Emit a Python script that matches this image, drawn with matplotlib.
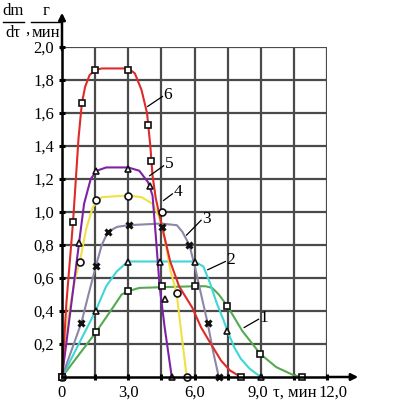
import numpy as np
import matplotlib
matplotlib.use("Agg")
import matplotlib.pyplot as plt
from matplotlib.lines import Line2D
from matplotlib.transforms import ScaledTranslation

plt.rcParams['font.family'] = ['Liberation Serif', 'DejaVu Serif']

# ---- curve lines ----
line6_x = [0, 0.2, 0.5, 0.75, 0.9, 1.05, 1.25, 1.5, 1.8, 3.0, 3.3, 3.6, 3.85, 4.0, 4.1, 4.25, 4.55, 4.9, 5.3, 5.9, 6.3, 6.7, 7.2, 7.6, 8.1]
line6_y = [0, 0.45, 0.94, 1.45, 1.66, 1.76, 1.83, 1.86, 1.87, 1.87, 1.84, 1.74, 1.6, 1.4, 1.22, 1.08, 0.9, 0.7, 0.55, 0.42, 0.3, 0.21, 0.1, 0.04, 0.0]
line5_x = [0, 0.4, 0.77, 1.0, 1.3, 1.57, 2.0, 3.0, 3.5, 3.9, 4.1, 4.25, 4.42, 4.65, 4.97]
line5_y = [0, 0.42, 0.81, 1.05, 1.2, 1.25, 1.27, 1.27, 1.25, 1.18, 1.1, 0.85, 0.55, 0.3, 0.0]
line4_x = [0, 0.3, 0.6, 0.81, 1.1, 1.4, 1.8, 3.0, 3.6, 4.1, 4.4, 4.65, 4.9, 5.19, 5.4, 5.65]
line4_y = [0, 0.38, 0.6, 0.7, 0.9, 1.03, 1.09, 1.1, 1.09, 1.05, 0.97, 0.84, 0.65, 0.51, 0.27, 0.0]
line3_x = [0, 0.88, 1.2, 1.53, 1.8, 2.08, 2.5, 3.0, 4.5, 5.2, 5.45, 5.77, 6.05, 6.3, 6.59, 6.85, 7.1]
line3_y = [0, 0.33, 0.5, 0.67, 0.8, 0.88, 0.91, 0.92, 0.93, 0.92, 0.88, 0.8, 0.65, 0.5, 0.33, 0.15, 0.0]
line2_x = [0, 1.52, 2.0, 2.48, 2.9, 3.0, 6.0, 6.4, 6.7, 7.0, 7.3, 7.49, 7.8, 8.1, 8.5, 9.0]
line2_y = [0, 0.4, 0.55, 0.64, 0.69, 0.7, 0.7, 0.67, 0.57, 0.45, 0.35, 0.28, 0.18, 0.11, 0.05, 0.0]
line1_x = [0, 1.53, 2.3, 2.7, 3.0, 3.5, 6.0, 6.5, 6.8, 7.1, 7.49, 8.16, 8.98, 9.7, 10.5, 10.87]
line1_y = [0, 0.27, 0.42, 0.5, 0.52, 0.54, 0.55, 0.55, 0.54, 0.5, 0.43, 0.28, 0.14, 0.06, 0.01, 0.0]

# ---- measured points (markers) ----
pts6_x = [0, 0.5, 0.9, 1.5, 3.0, 3.9, 4.05, 8.1]
pts6_y = [0, 0.94, 1.66, 1.86, 1.86, 1.53, 1.31, 0.0]
pts5_x = [0, 0.77, 1.55, 3.0, 3.97, 4.65, 4.97]
pts5_y = [0, 0.81, 1.25, 1.26, 1.16, 0.47, 0.0]
pts4_x = [0, 0.81, 1.52, 3.0, 4.55, 5.19, 5.68]
pts4_y = [0, 0.70, 1.07, 1.10, 1.0, 0.51, 0.0]
pts3_x = [0, 0.88, 1.53, 2.08, 3.02, 4.55, 5.77, 6.59, 7.1]
pts3_y = [0, 0.33, 0.67, 0.88, 0.92, 0.91, 0.80, 0.33, 0.0]
pts2_x = [0, 1.52, 3.0, 4.45, 6.0, 7.49, 9.0]
pts2_y = [0, 0.40, 0.70, 0.70, 0.70, 0.28, 0.0]
pts1_x = [0, 1.53, 3.0, 4.51, 6.0, 7.49, 8.98, 10.87]
pts1_y = [0, 0.27, 0.52, 0.55, 0.55, 0.43, 0.14, 0.0]

x_tick_labels = ['0', '3,0', '6,0', '9,0', '12,0']
y_tick_labels = ['0,2', '0,4', '0,6', '0,8', '1,0', '1,2', '1,4', '1,6', '1,8', '2,0']

fsz = 12

fig = plt.figure(figsize=(3.95, 4.03), dpi=100)
ax = fig.add_axes([62/395, 26/403, 265/395, 330/403])
ax.set_xlim(0, 12)
ax.set_ylim(0, 2.0)

# grid
gcol = '#4a4a4a'
ax.set_xticks(np.arange(0, 12.1, 3.0))
ax.set_xticks(np.arange(1.5, 12, 3.0), minor=True)
ax.set_yticks(np.arange(0.2, 2.01, 0.2))
ax.set_xticklabels(x_tick_labels, fontsize=fsz)
ax.set_yticklabels(y_tick_labels, fontsize=fsz)
ax.grid(True, which='both', color=gcol, lw=1.6)
ax.tick_params(which='both', direction='inout', length=5, width=2.2, color='black')
ax.tick_params(axis='x', pad=3)
ax.tick_params(axis='y', pad=3)
for s in ['top', 'right']:
    ax.spines[s].set_visible(False)
for s in ['left', 'bottom']:
    ax.spines[s].set_linewidth(1.8)
    ax.spines[s].set_zorder(5)

# shift x labels a bit like the scan
shifts = [0, 0, 0, -3, 6]
for lbl, dx in zip(ax.get_xticklabels(), shifts):
    lbl.set_transform(lbl.get_transform() + ScaledTranslation(dx/100, 0, fig.dpi_scale_trans))

# curves
curves = [
    (line1_x, line1_y, pts1_x, pts1_y, '#55aa50', 's'),
    (line2_x, line2_y, pts2_x, pts2_y, '#3fd6d6', '^'),
    (line3_x, line3_y, pts3_x, pts3_y, '#8c86a8', 'x'),
    (line4_x, line4_y, pts4_x, pts4_y, '#f0e045', 'o'),
    (line5_x, line5_y, pts5_x, pts5_y, '#7d22a8', '^'),
    (line6_x, line6_y, pts6_x, pts6_y, '#dd2a2a', 's'),
]
for lx, ly, px, py, col, mk in curves:
    ax.plot(lx, ly, color=col, lw=1.5, zorder=3, clip_on=False)
for lx, ly, px, py, col, mk in curves:
    if mk == 'x':
        ax.plot(px, py, ls='none', marker='x', ms=4.5, mew=2.2, color='#111111', zorder=4, clip_on=False)
    else:
        ax.plot(px, py, ls='none', marker=mk, ms=5, mew=1.2, mec='#111111', mfc='white', zorder=4, clip_on=False)

# curve numbers with leader lines
labels = ['1', '2', '3', '4', '5', '6']
lead_from = [(8.25, 0.30), (6.6, 0.65), (5.64, 0.86), (4.6, 1.07), (3.97, 1.22), (3.88, 1.64)]
lead_to = [(8.9, 0.35), (7.4, 0.70), (6.3, 0.95), (5.0, 1.11), (4.6, 1.28), (4.55, 1.70)]
for lab, (x0, y0), (x1, y1) in zip(labels, lead_from, lead_to):
    ax.plot([x0, x1], [y0, y1], color='black', lw=0.9, zorder=4)
    ax.text(x1 + 0.05, y1 + 0.01, lab, fontsize=fsz + 0.5, ha='left', va='center', zorder=4)

# axis arrows
ax.annotate('', xy=(361/395, 26/403), xycoords='figure fraction',
            xytext=(325/395, 26/403), textcoords='figure fraction',
            arrowprops=dict(arrowstyle='-|>', color='black', lw=1.8, mutation_scale=10))
ax.annotate('', xy=(62/395, 393/403), xycoords='figure fraction',
            xytext=(62/395, 350/403), textcoords='figure fraction',
            arrowprops=dict(arrowstyle='-|>', color='black', lw=1.8, mutation_scale=10))

# axis labels
fig.text(295/395, 10/403, 'τ, мин', fontsize=fsz, ha='center', va='center')
fig.text(13/395, 392/403, 'dm', fontsize=12, ha='center', va='center')
fig.text(13/395, 370/403, 'dτ', fontsize=12, ha='center', va='center')
fig.text(27/395, 373/403, ',', fontsize=12, ha='center', va='center')
fig.text(46/395, 392/403, 'г', fontsize=12, ha='center', va='center')
fig.text(46/395, 370/403, 'мин', fontsize=12, ha='center', va='center')
fig.add_artist(Line2D([3/395, 24/395], [381/403, 381/403], color='black', lw=1.0))
fig.add_artist(Line2D([31/395, 61/395], [381/403, 381/403], color='black', lw=1.0))

fig.savefig('out.png', dpi=100)
